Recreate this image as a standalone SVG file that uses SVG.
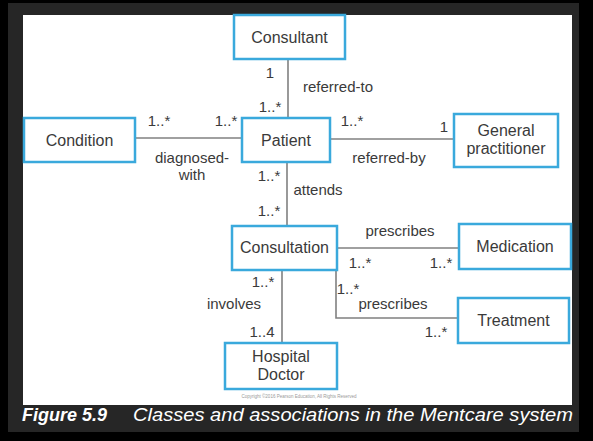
<svg xmlns="http://www.w3.org/2000/svg" width="593" height="441" viewBox="0 0 593 441">
<style>
.node rect{fill:#fff;stroke:#3aa9dc;stroke-width:2.5}
.node text,.lbl{font-family:"Liberation Sans",Arial,sans-serif;fill:#3a3a3a;text-anchor:middle}
.node text{font-size:16px}
.lbl{font-size:15px}
.conn{stroke:#808080;stroke-width:1.6;fill:none}
.cap{font-family:"Liberation Sans",Arial,sans-serif;fill:#fff;font-style:italic;font-size:18px}
</style>
<rect width="593" height="441" fill="#000"/>
<rect x="8" y="3" width="571" height="429" fill="#262626"/>
<rect x="23" y="15" width="549" height="390" fill="#fff"/>
<g id="connectors">
<line class="conn" x1="288" y1="59" x2="288" y2="118"/>
<line class="conn" x1="135" y1="138" x2="242" y2="138"/>
<line class="conn" x1="330" y1="139" x2="454" y2="139"/>
<line class="conn" x1="287" y1="162" x2="287" y2="226"/>
<line class="conn" x1="337" y1="248" x2="459" y2="248"/>
<polyline class="conn" points="336,270 336,318 458,318"/>
<line class="conn" x1="282" y1="270" x2="282" y2="343"/>
</g>
<g id="consultant" class="node"><rect x="234" y="15" width="111" height="44"/><text x="289.5" y="43">Consultant</text></g>
<g id="patient" class="node"><rect x="242" y="118" width="88" height="44"/><text x="286" y="146">Patient</text></g>
<g id="condition" class="node"><rect x="24" y="118" width="111" height="44"/><text x="79.5" y="146">Condition</text></g>
<g id="gp" class="node"><rect x="454" y="114" width="104" height="53"/><text x="506" y="136">General</text><text x="506" y="154">practitioner</text></g>
<g id="consultation" class="node"><rect x="232" y="226" width="105" height="44"/><text x="284.5" y="253">Consultation</text></g>
<g id="medication" class="node"><rect x="459" y="224" width="112" height="45"/><text x="515" y="252">Medication</text></g>
<g id="treatment" class="node"><rect x="458" y="298" width="111" height="45"/><text x="513.5" y="326">Treatment</text></g>
<g id="hospital-doctor" class="node"><rect x="225" y="343" width="112" height="46"/><text x="281" y="362">Hospital</text><text x="281" y="380">Doctor</text></g>
<g id="labels">
<text class="lbl" x="270" y="78">1</text>
<text class="lbl" x="338" y="92">referred-to</text>
<text class="lbl" x="270" y="112">1..*</text>
<text class="lbl" x="159" y="126">1..*</text>
<text class="lbl" x="226" y="126">1..*</text>
<text class="lbl" x="192" y="163">diagnosed-</text>
<text class="lbl" x="192" y="180">with</text>
<text class="lbl" x="352" y="126">1..*</text>
<text class="lbl" x="444" y="132">1</text>
<text class="lbl" x="389" y="163">referred-by</text>
<text class="lbl" x="269" y="181">1..*</text>
<text class="lbl" x="318" y="195">attends</text>
<text class="lbl" x="269" y="216">1..*</text>
<text class="lbl" x="400" y="236">prescribes</text>
<text class="lbl" x="360" y="268">1..*</text>
<text class="lbl" x="441" y="268">1..*</text>
<text class="lbl" x="263" y="287">1..*</text>
<text class="lbl" x="234" y="309">involves</text>
<text class="lbl" x="262" y="337">1..4</text>
<text class="lbl" x="348" y="294">1..*</text>
<text class="lbl" x="393" y="309">prescribes</text>
<text class="lbl" x="436" y="337">1..*</text>
</g>
<text x="299" y="398" font-family="Liberation Sans,Arial,sans-serif" font-size="4.5" fill="#999" text-anchor="middle">Copyright ©2016 Pearson Education, All Rights Reserved</text>
<text class="cap" y="421"><tspan x="22" font-weight="bold">Figure 5.9</tspan><tspan x="133" textLength="440" lengthAdjust="spacingAndGlyphs">Classes and associations in the Mentcare system</tspan></text>
</svg>
